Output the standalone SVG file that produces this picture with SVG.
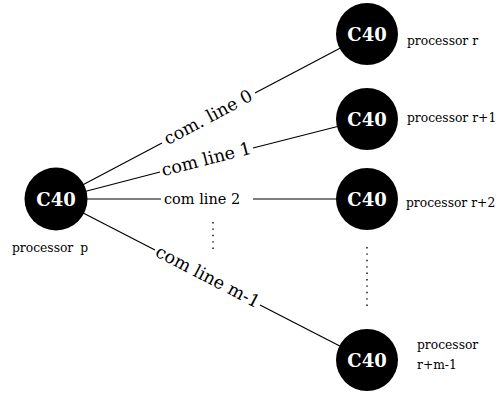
<svg xmlns="http://www.w3.org/2000/svg" width="504" height="393" viewBox="0 0 504 393">
<style>
.ln{stroke:#000;stroke-width:1.2;fill:none}
.dot{stroke:#000;stroke-width:1.4;fill:none;stroke-dasharray:1.4 5}
.node{fill:#000}
.c40{font-family:"DejaVu Serif","Liberation Serif",serif;font-weight:bold;font-size:18px;fill:#fff;text-anchor:middle}
.lbl{font-family:"DejaVu Serif","Liberation Serif",serif;font-size:12.3px;fill:#000}
.com{font-family:"DejaVu Serif","Liberation Serif",serif;font-size:17.5px;fill:#000;text-anchor:middle}
.com2{font-family:"DejaVu Serif","Liberation Serif",serif;font-size:14.5px;fill:#000}
</style>
<rect width="504" height="393" fill="#fff"/>
<g id="connectors">
<line class="ln" x1="56" y1="199" x2="162" y2="143"/>
<line class="ln" x1="255" y1="93" x2="367" y2="34"/>
<line class="ln" x1="56" y1="199" x2="160" y2="172"/>
<line class="ln" x1="253" y1="148" x2="367" y2="119"/>
<line class="ln" x1="56" y1="199" x2="161" y2="199"/>
<line class="ln" x1="253" y1="199" x2="367" y2="199"/>
<line class="ln" x1="56" y1="199" x2="155" y2="250"/>
<line class="ln" x1="260" y1="305" x2="367" y2="360"/>
<line class="dot" x1="213" y1="222" x2="213" y2="254"/>
<line class="dot" x1="367" y1="247" x2="367" y2="311"/>
<text class="com" transform="translate(208.5,118) rotate(-27.9)" x="0" y="5">com. line 0</text>
<text class="com" transform="translate(206.5,160) rotate(-14.4)" x="0" y="5">com line 1</text>
<text class="com2" x="164" y="204">com line 2</text>
<text class="com" transform="translate(207.5,277.5) rotate(27.4)" x="0" y="5">com line m-1</text>
</g>
<g id="node-p">
<circle class="node" cx="56" cy="199" r="31.5"/>
<text class="c40" x="56" y="205.5">C40</text>
<text class="lbl" x="12" y="252">processor<tspan dx="7">p</tspan></text>
</g>
<g id="node-r">
<circle class="node" cx="367" cy="34" r="31"/>
<text class="c40" x="367" y="40.5">C40</text>
<text class="lbl" x="407" y="45">processor<tspan dx="4">r</tspan></text>
</g>
<g id="node-r1">
<circle class="node" cx="367" cy="119" r="31"/>
<text class="c40" x="367" y="125.5">C40</text>
<text class="lbl" x="407" y="122">processor<tspan dx="4">r+1</tspan></text>
</g>
<g id="node-r2">
<circle class="node" cx="367" cy="199" r="31"/>
<text class="c40" x="367" y="205.5">C40</text>
<text class="lbl" x="406" y="207">processor<tspan dx="4">r+2</tspan></text>
</g>
<g id="node-rm1">
<circle class="node" cx="367" cy="360" r="31"/>
<text class="c40" x="367" y="366.5">C40</text>
<text class="lbl" x="417" y="349">processor</text>
<text class="lbl" x="417" y="369">r+m-1</text>
</g>
</svg>
